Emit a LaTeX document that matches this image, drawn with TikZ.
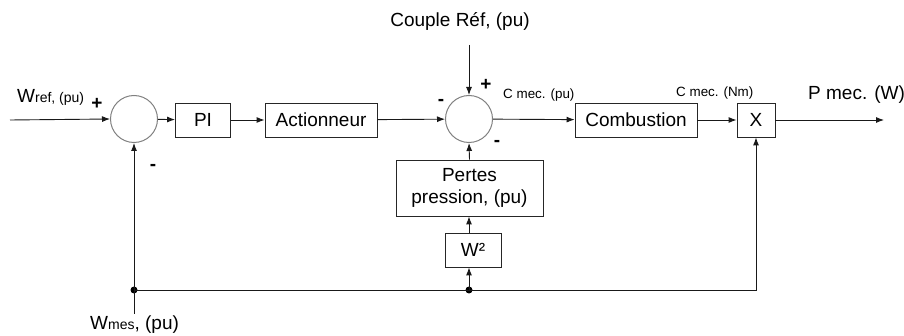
\documentclass[tikz,border=0pt]{standalone}
\usepackage{fontspec}
\setmainfont{Liberation Sans}
\usetikzlibrary{arrows.meta}

\tikzset{
  bloc/.style={draw=black!85, line width=0.9pt, minimum height=34pt, inner sep=0pt},
  somme/.style={circle, draw=black!50, line width=1pt, minimum size=47pt, inner sep=0pt},
  lien/.style={draw=black!90, line width=0.9pt, -{Latex[length=8pt,width=6pt]}},
  signe/.style={font=\fontsize{19}{22}\selectfont\bfseries, inner sep=0pt},
  petit/.style={font=\fontsize{13.4}{15}\selectfont, inner sep=0pt},
  jonction/.style={circle, fill=black, inner sep=0pt, minimum size=7pt},
}

\begin{document}
\begin{tikzpicture}[x=1pt, y=-1pt, font=\fontsize{19}{22}\selectfont]
  \useasboundingbox (0,0) rectangle (904,336);

  % chaine directe
  \node[somme] (s1) at (134,119) {};
  \node[bloc, minimum width=55pt] (pi) at (203,120) {PI};
  \node[bloc, minimum width=112pt] (act) at (321,120) {Actionneur};
  \node[somme] (s2) at (469,119) {};
  \node[bloc, minimum width=122pt] (comb) at (636,120) {Combustion};
  \node[bloc, minimum width=38pt] (mult) at (756,120) {X};

  % retour
  \node[bloc, minimum width=147pt, minimum height=56pt, align=center] (pertes) at (469.5,188) {Pertes\\pression, (pu)};
  \node[bloc, minimum width=56pt] (carre) at (473,250) {W²};
  \node[jonction] (j1) at (134,290) {};
  \node[jonction] (j2) at (469,290) {};

  \coordinate (in) at (10,120);
  \coordinate (out) at (884,120);
  \coordinate (cref) at (469,45);
  \coordinate (wm) at (134,314);

  % textes
  \node[anchor=base west, inner sep=0pt] (wref) at (17,103) {W{\fontsize{14}{16}\selectfont ref, (pu)}};
  \node[anchor=base west, inner sep=0pt] (wmes) at (90,329) {W{\fontsize{14}{16}\selectfont mes}, (pu)};
  \node[anchor=base, inner sep=0pt] (cpl) at (460,27) {Couple Réf, (pu)};
  \node[anchor=base west, inner sep=0pt] (pmec) at (808,100) {P mec. (W)};
  \node[petit, anchor=base west] (cpu) at (503,99) {C mec. (pu)};
  \node[petit, anchor=base west] (cnm) at (676,97) {C mec. (Nm)};

  \node[signe] (p1) at (97,104) {+};
  \node[signe] (m1) at (153,167) {-};
  \node[signe] (m2) at (441,102) {-};
  \node[signe] (p2) at (486,85) {+};
  \node[signe] (m3) at (497,143) {-};

  % liaisons
  \draw[lien] (in) -- (s1.west);
  \draw[lien] (s1) -- (pi);
  \draw[lien] (pi) -- (act);
  \draw[lien] (act) -- (s2);
  \draw[lien] (cref) -- (s2.north);
  \draw[lien] (s2) -- (comb);
  \draw[lien] (comb) -- (mult);
  \draw[lien] (mult) -- (out);
  \draw[lien] (wm) -- (s1.south);
  \draw[lien] (j1.center) -| (mult.south);
  \draw[lien] (j2.center) -- (j2 |- carre.south);
  \draw[lien] (j2 |- carre.north) -- (j2 |- pertes.south);
  \draw[lien] (pertes.north) -- (s2.south);
\end{tikzpicture}
\end{document}
